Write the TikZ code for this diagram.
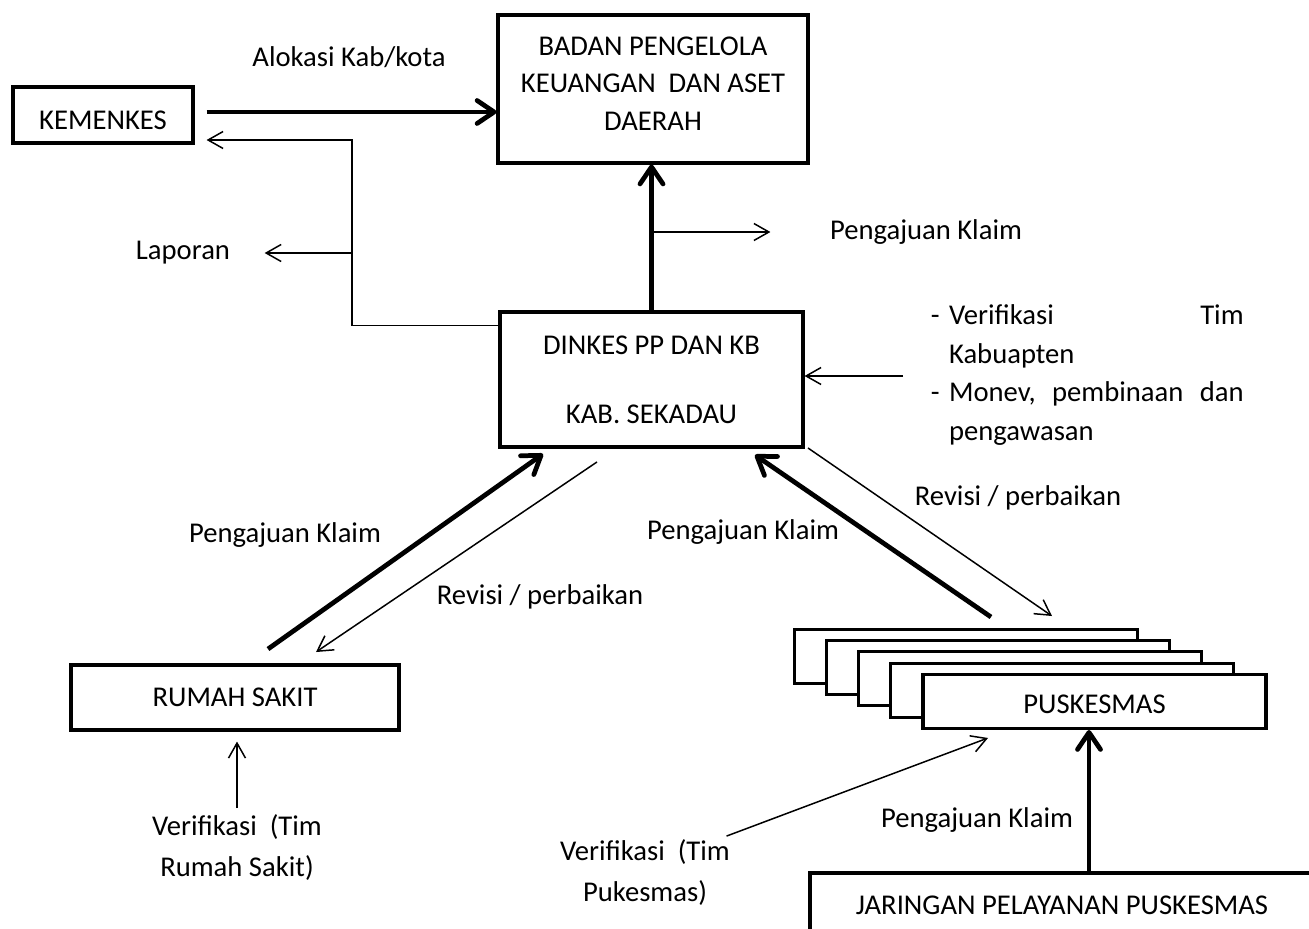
\documentclass[tikz,border=0pt]{standalone}
\usepackage{fontspec}
\setmainfont{Carlito}
\usepackage{tikz}
\usetikzlibrary{arrows.meta,calc}
\tikzstyle{bx}=[draw, rectangle, line width=1.8pt, align=center, inner sep=0pt]
\tikzstyle{pk}=[bx, fill=white, minimum width=6.86cm, minimum height=1.08cm]
\tikzstyle{lbl}=[align=center]
\tikzstyle{two}=[align=center, font=\fontsize{16.3}{23.2}\selectfont]
\tikzstyle{fat}=[line width=2.7pt, -{Straight Barb[round,length=0.34cm,width=0.46cm]}]

\begin{document}
\begin{tikzpicture}
[->, >={Straight Barb[length=0.3cm,width=0.34cm]}, line width=0.85pt, x=0.02cm, y=-0.02cm, font=\fontsize{16.3}{21.3}\selectfont]
\useasboundingbox (0,0) rectangle (1309,929);
\clip (0,0) rectangle (1309,929);
\node[bx, minimum width=3.6cm, minimum height=1.12cm, text height=0.57cm] (kem) at (103,115) {KEMENKES};
\node[bx, minimum width=6.2cm, minimum height=2.96cm] (badan) at (653,89) {BADAN PENGELOLA\\KEUANGAN\ \ DAN ASET\\DAERAH\rule[-0.22cm]{0pt}{0.22cm}};
\node[bx, minimum width=6.06cm, minimum height=2.7cm] (dinkes) at (651.5,379.5) {DINKES PP DAN KB\\[17.9pt]KAB. SEKADAU};
\node[bx, minimum width=6.56cm, minimum height=1.3cm] (rs) at (235,697.5) {RUMAH SAKIT};
\node[pk] (pk1) at (965.7,656.3) {};
\node[pk] (pk2) at (997.9,667.6) {};
\node[pk] (pk3) at (1030.1,678.9) {};
\node[pk] (pk4) at (1062.3,690.2) {};
\node[pk, text height=0.49cm] (pk5) at (1094.5,701.5) {PUSKESMAS};
\node[bx, minimum width=10.08cm, minimum height=1.28cm] (jar) at (1062,905) {JARINGAN PELAYANAN PUSKESMAS};
\node[lbl] (alok) at (349,57) {Alokasi Kab/kota};
\node[lbl] (lap) at (183,253) {Laporan};
\node[lbl] (pj1) at (926,232) {Pengajuan Klaim};
\node[lbl, align=left, text width=6.26cm, inner sep=0pt, anchor=west, font=\fontsize{16.3}{22}\selectfont] (ver) at (930,375) {- Verifikasi\hfill Tim\\\phantom{- }Kabuapten\\- Monev,\hfill pembinaan\hfill dan\\\phantom{- }pengawasan};
\node[lbl] (pjrs) at (285,535) {Pengajuan Klaim};
\node[lbl] (revrs) at (540,597) {Revisi / perbaikan};
\node[lbl] (pjpk) at (743,532) {Pengajuan Klaim};
\node[lbl] (revpk) at (1018,498) {Revisi / perbaikan};
\node[two] (verrs) at (237,847.5) {Verifikasi\ \ (Tim\\Rumah Sakit)};
\node[two] (verpk) at (645,872.5) {Verifikasi\ \ (Tim\\Pukesmas)};
\node[lbl] (pjjar) at (977,820) {Pengajuan Klaim};
\coordinate (k1) at ($(kem.east)+(12,-3)$);
\coordinate (l1) at ($(dinkes.north west)+(0,15)$);
\coordinate (jn) at (352,253);
\coordinate (lapend) at ($(lap.east)+(28,0)$);
\coordinate (v1) at (903,376);
\coordinate (j1) at ($(jar.north)+(27,0)$);
\draw (l1) -| (jn) |- ($(kem.east)+(12,25)$);
\path
(k1) edge[fat] (k1 -| badan.west)
(dinkes.north) edge[fat] (dinkes.north |- badan.south)
(jn) edge (lapend)
(dinkes.north |- pj1) edge ($(pj1.west)+(-53,0)$)
(v1) edge (v1 -| dinkes.east)
($(rs.north)+(33,-14.4)$) edge[fat] ($(dinkes.south)+(-108.5,5.4)$)
($(dinkes.south)+(-54.5,13.4)$) edge ($(rs.north)+(81,-11.4)$)
($(pk1.north)+(25.3,-10.7)$) edge[fat] ($(dinkes.south)+(103.5,6.4)$)
($(dinkes.south east)+(3.4,-0.6)$) edge ($(pk1.north)+(86.3,-11.7)$)
(verrs.north) edge ($(verrs.north |- rs.south)+(0,10)$)
($(verpk.north east)+(-10,3)$) edge ($(pk5.south west)+(66.6,7.9)$)
(j1) edge[fat] (j1 |- pk5.south);
\end{tikzpicture}
\end{document}
